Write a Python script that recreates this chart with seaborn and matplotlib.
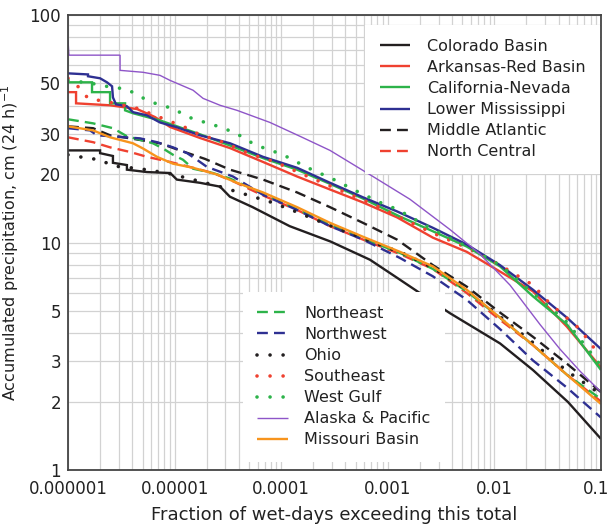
import matplotlib
matplotlib.use("Agg")
import matplotlib.pyplot as plt
import seaborn as sns
from matplotlib.ticker import FixedLocator, FixedFormatter, NullFormatter
from matplotlib.transforms import ScaledTranslation

# Exceedance curves of daily precipitation totals by river-forecast region
colorado_frac = [1e-6, 2e-6, 2e-6, 2.64e-6, 2.64e-6, 3.57e-6, 3.57e-6, 5.5e-6, 9.1e-6, 1.05e-5,
                 1.73e-5, 2.67e-5, 3.3e-5, 5.4e-5, 1.2e-4, 2.9e-4, 6.8e-4, 1.22e-3, 3.8e-3,
                 1.13e-2, 2.3e-2, 4.9e-2, 0.1]
colorado_vals = [25.4, 25.4, 24.7, 24.0, 22.4, 21.9, 20.9, 20.4, 20.2, 18.9, 18.3, 17.6, 15.9,
                 14.3, 11.8, 10.1, 8.4, 7.0, 4.9, 3.6, 2.75, 1.99, 1.37]

arkansas_frac = [1e-6, 1.19e-6, 1.19e-6, 2.48e-6, 4.44e-6, 6.55e-6, 9.06e-6, 1.73e-5, 3.31e-5,
                 6.75e-5, 1.41e-4, 2.87e-4, 5.85e-4, 1.22e-3, 2.65e-3, 5.5e-3, 1.13e-2, 2.3e-2,
                 4.8e-2, 0.1]
arkansas_vals = [45.8, 45.8, 40.9, 40.1, 38.6, 35.6, 32.2, 28.8, 26.0, 22.6, 19.5, 17.1, 15.0,
                 12.9, 10.5, 9.1, 7.45, 6.1, 4.26, 2.82]

california_frac = [1e-6, 1.68e-6, 1.68e-6, 2.48e-6, 2.48e-6, 3.43e-6, 3.43e-6, 4.07e-6, 7.29e-6,
                   1.73e-5, 3.31e-5, 6.75e-5, 1.41e-4, 2.87e-4, 5.85e-4, 1.3e-3, 2.65e-3, 5.5e-3,
                   1.13e-2, 2.3e-2, 4.8e-2, 0.1]
california_vals = [50.6, 50.6, 45.8, 45.8, 40.9, 40.9, 38.1, 37.0, 34.4, 29.9, 26.7, 23.5, 20.9,
                   18.1, 15.6, 13.0, 11.2, 9.6, 7.85, 5.8, 4.36, 2.75]

lower_miss_frac = [1e-6, 1.54e-6, 1.54e-6, 2.0e-6, 2.32e-6, 2.59e-6, 2.64e-6, 2.82e-6, 3.57e-6,
                   4.07e-6, 5.51e-6, 7.29e-6, 1.05e-5, 1.73e-5, 3.31e-5, 6.75e-5, 1.41e-4, 2.87e-4,
                   5.85e-4, 1.22e-3, 2.65e-3, 5.5e-3, 1.13e-2, 2.3e-2, 4.8e-2, 0.1]
lower_miss_vals = [55.4, 54.8, 53.8, 52.7, 50.6, 48.6, 43.4, 40.5, 39.7, 37.4, 36.2, 33.7, 32.1,
                   29.6, 27.3, 23.8, 21.3, 18.3, 15.8, 13.7, 11.6, 9.8, 7.95, 6.2, 4.67, 3.4]

mid_atlantic_frac = [1e-6, 1.72e-6, 2.48e-6, 3.82e-6, 7.29e-6, 1.12e-5, 1.93e-5, 3.31e-5, 6.75e-5,
                     1.41e-4, 2.87e-4, 5.85e-4, 1.22e-3, 2.65e-3, 5.5e-3, 1.13e-2, 2.3e-2, 4.8e-2, 0.1]
mid_atlantic_vals = [32.4, 31.8, 29.6, 28.7, 27.3, 25.4, 23.3, 20.9, 18.9, 16.6, 14.3, 12.2, 10.3,
                     7.95, 6.4, 4.92, 3.85, 2.93, 2.2]

north_central_frac = [1e-6, 1.72e-6, 2.48e-6, 3.82e-6, 5.51e-6, 9.06e-6, 1.49e-5, 2.29e-5, 3.53e-5,
                      6.75e-5, 1.41e-4, 2.87e-4, 5.85e-4, 1.3e-3, 2.65e-3, 5.5e-3, 1.13e-2, 2.3e-2,
                      4.8e-2, 0.1]
north_central_vals = [29.0, 27.6, 26.2, 25.0, 23.8, 22.6, 21.3, 20.2, 18.6, 16.1, 13.9, 11.8, 10.3,
                      8.9, 7.65, 6.0, 4.57, 3.54, 2.62, 2.0]

northeast_frac = [1e-6, 1.72e-6, 2.64e-6, 3.57e-6, 6.26e-6, 7.78e-6, 9.66e-6, 1.2e-5, 1.49e-5,
                  2.29e-5, 3.31e-5, 6.75e-5, 1.41e-4, 2.87e-4, 5.85e-4, 1.3e-3, 2.65e-3, 5.5e-3,
                  1.13e-2, 2.3e-2, 4.8e-2, 0.1]
northeast_vals = [34.8, 33.4, 31.8, 29.3, 27.3, 25.9, 24.3, 23.1, 21.1, 20.2, 19.1, 16.4, 14.0,
                  12.0, 10.4, 9.0, 7.65, 6.1, 4.67, 3.54, 2.62, 2.05]

northwest_frac = [1e-6, 1.61e-6, 1.87e-6, 4.73e-6, 6.84e-6, 9.66e-6, 1.31e-5, 1.62e-5, 2.01e-5,
                  3.53e-5, 6.75e-5, 1.41e-4, 2.87e-4, 5.85e-4, 1.3e-3, 2.65e-3, 5.5e-3, 1.13e-2,
                  2.3e-2, 4.8e-2, 0.1]
northwest_vals = [31.8, 31.1, 29.6, 28.7, 27.6, 26.2, 24.7, 23.1, 21.5, 19.5, 16.2, 13.9, 11.8,
                  10.3, 8.55, 7.1, 5.6, 4.16, 3.03, 2.3, 1.7]

ohio_frac = [1e-6, 1.51e-6, 2.0e-6, 2.64e-6, 4.73e-6, 8.49e-6, 1.49e-5, 2.67e-5, 4.78e-5, 8.2e-5,
             1.41e-4, 2.47e-4, 4.42e-4, 9.8e-4, 1.3e-3, 2.65e-3, 5.5e-3, 1.13e-2, 2.3e-2, 4.8e-2, 0.1]
ohio_vals = [24.3, 23.5, 23.1, 21.7, 21.1, 20.2, 18.9, 17.6, 16.2, 15.0, 13.6, 12.2, 11.0, 9.5,
             9.1, 7.75, 6.2, 4.72, 3.63, 2.72, 2.15]

southeast_frac = [1e-6, 1.3e-6, 1.54e-6, 2.48e-6, 4.44e-6, 7.29e-6, 1.25e-5, 1.62e-5, 2.84e-5,
                  5.09e-5, 8.75e-5, 1.5e-4, 2.58e-4, 4.23e-4, 7.58e-4, 1.25e-3, 2.65e-3, 5.5e-3,
                  1.13e-2, 2.3e-2, 3.3e-2, 6.35e-2, 0.1]
southeast_vals = [52.7, 47.6, 43.0, 41.3, 38.9, 35.5, 32.1, 30.2, 27.6, 24.5, 22.6, 20.2, 18.1,
                  16.4, 14.6, 13.0, 11.0, 9.5, 7.95, 6.5, 5.4, 4.16, 3.13]

west_gulf_frac = [1e-6, 1.68e-6, 1.96e-6, 3.65e-6, 4.44e-6, 5.62e-6, 7.29e-6, 9.66e-6, 1.25e-5,
                  1.62e-5, 2.15e-5, 2.79e-5, 3.69e-5, 4.78e-5, 6.19e-5, 8.2e-5, 1.04e-4, 1.78e-4,
                  3.13e-4, 5.25e-4, 9.0e-4, 1.22e-3, 2.65e-3, 5.5e-3, 1.13e-2, 2.3e-2, 4.8e-2, 0.1]
west_gulf_vals = [51.6, 50.1, 49.1, 47.1, 44.4, 42.2, 40.1, 38.9, 36.2, 34.4, 33.4, 31.8, 30.5,
                  28.1, 26.5, 25.3, 24.3, 21.3, 18.9, 16.7, 14.8, 14.0, 11.4, 9.6, 7.95, 6.0,
                  4.46, 2.87]

alaska_frac = [1e-6, 1.02e-6, 3.08e-6, 3.08e-6, 5.05e-6, 7.29e-6, 9.06e-6, 1.49e-5, 1.85e-5,
               2.67e-5, 3.85e-5, 7.85e-5, 1.5e-4, 2.87e-4, 7.26e-4, 1.61e-3, 3.83e-3, 7.33e-3,
               1.4e-2, 2.68e-2, 4.12e-2, 6.35e-2, 0.1]
alaska_vals = [77.5, 66.6, 66.6, 57.1, 56.0, 54.3, 51.6, 46.7, 43.0, 40.1, 38.1, 33.7, 29.3, 25.4,
               19.5, 15.5, 11.4, 8.9, 6.5, 4.36, 3.4, 2.72, 2.2]

missouri_frac = [1e-6, 1.72e-6, 2.48e-6, 4.07e-6, 5.05e-6, 6.84e-6, 9.66e-6, 1.49e-5, 2.5e-5,
                 3.85e-5, 6.75e-5, 1.41e-4, 2.87e-4, 5.85e-4, 1.3e-3, 2.65e-3, 5.5e-3, 1.13e-2,
                 2.3e-2, 4.8e-2, 0.1]
missouri_vals = [32.4, 31.1, 29.0, 27.3, 25.9, 23.8, 22.2, 21.3, 19.9, 18.3, 16.6, 14.3, 12.2,
                 10.6, 9.1, 7.85, 6.2, 4.67, 3.54, 2.62, 1.95]

x_ticks = [1e-6, 1e-5, 1e-4, 1e-3, 1e-2, 1e-1]
x_tick_labels = ["0.000001", "0.00001", "0.0001", "0.001", "0.01", "0.1"]
y_ticks = [1, 2, 3, 5, 10, 20, 30, 50, 100]
y_tick_labels = ["1", "2", "3", "5", "10", "20", "30", "50", "100"]

BLACK = "#231f20"
RED = "#ef4130"
GREEN = "#2db34a"
NAVY = "#2e3092"
PURPLE = "#8e55c8"
ORANGE = "#f7941d"

SOLID = "-"
DASH = (0, (4.6, 2.6))
DOT = (0, (0.01, 3.6))

series = [
    ("Colorado Basin", colorado_frac, colorado_vals, BLACK, SOLID),
    ("Arkansas-Red Basin", arkansas_frac, arkansas_vals, RED, SOLID),
    ("California-Nevada", california_frac, california_vals, GREEN, SOLID),
    ("Lower Mississippi", lower_miss_frac, lower_miss_vals, NAVY, SOLID),
    ("Middle Atlantic", mid_atlantic_frac, mid_atlantic_vals, BLACK, DASH),
    ("North Central", north_central_frac, north_central_vals, RED, DASH),
    ("Northeast", northeast_frac, northeast_vals, GREEN, DASH),
    ("Northwest", northwest_frac, northwest_vals, NAVY, DASH),
    ("Ohio", ohio_frac, ohio_vals, BLACK, DOT),
    ("Southeast", southeast_frac, southeast_vals, RED, DOT),
    ("West Gulf", west_gulf_frac, west_gulf_vals, GREEN, DOT),
    ("Alaska & Pacific", alaska_frac, alaska_vals, PURPLE, SOLID),
    ("Missouri Basin", missouri_frac, missouri_vals, ORANGE, SOLID),
]

sns.set_style("white")
plt.rcParams["font.family"] = ["DejaVu Sans"]
plt.rcParams["mathtext.fontset"] = "dejavusans"

fig = plt.figure(figsize=(6.12, 5.30), dpi=100)
ax = fig.add_axes([68 / 612, 1 - 470 / 530, 533 / 612, 455 / 530])

for name, fx, fy, color, style in series:
    if style == DOT:
        lw = 2.6
    elif name == "Alaska & Pacific":
        lw = 1.0
    else:
        lw = 1.7
    sns.lineplot(x=fx, y=fy, ax=ax, color=color, linestyle=style, linewidth=lw,
                 estimator=None, sort=False, label=name,
                 dash_capstyle="round" if style == DOT else "butt",
                 solid_capstyle="butt", solid_joinstyle="miter", legend=False)

ax.set_xscale("log")
ax.set_yscale("log")
ax.set_xlim(1e-6, 0.1)
ax.set_ylim(1, 100)

ax.xaxis.set_major_locator(FixedLocator(x_ticks))
ax.xaxis.set_major_formatter(FixedFormatter(x_tick_labels))
ax.xaxis.set_minor_locator(FixedLocator([m * d for d in x_ticks[:-1] for m in range(2, 10)]))
ax.xaxis.set_minor_formatter(NullFormatter())
ax.yaxis.set_major_locator(FixedLocator(y_ticks))
ax.yaxis.set_major_formatter(FixedFormatter(y_tick_labels))
ax.yaxis.set_minor_locator(FixedLocator([4, 6, 7, 8, 9, 40, 60, 70, 80, 90]))
ax.yaxis.set_minor_formatter(NullFormatter())

ax.grid(True, which="both", color="#d2d2d2", linewidth=0.9)
ax.set_axisbelow(True)
ax.tick_params(which="both", length=0, labelsize=12, colors="#222222")
ax.tick_params(axis="x", pad=7)
ax.tick_params(axis="y", pad=5)
for sp in ax.spines.values():
    sp.set_color("#444444")
    sp.set_linewidth(1.3)

# keep the last x label inside the canvas
fig.canvas.draw()
last = ax.xaxis.get_major_ticks()[-1].label1
last.set_transform(last.get_transform() + ScaledTranslation(-5 / 100, 0, fig.dpi_scale_trans))

ax.set_xlabel("Fraction of wet-days exceeding this total", fontsize=13, color="#222222", labelpad=6)
ax.set_ylabel(r"Accumulated precipitation, cm (24 h)$^{-1}$", fontsize=11.5, color="#222222",
              labelpad=6)

handles, labels = ax.get_legend_handles_labels()
leg_kw = dict(frameon=True, facecolor="white", edgecolor="none", framealpha=1.0, fancybox=False,
              fontsize=11.5, handlelength=1.9, handletextpad=1.05, labelspacing=0.38,
              borderaxespad=0.0, borderpad=0.9, labelcolor="#222222")
leg1 = ax.legend(handles[:6], labels[:6], loc="upper right", bbox_to_anchor=(0.998, 0.979), **leg_kw)
ax.add_artist(leg1)
ax.legend(handles[6:], labels[6:], loc="upper left", bbox_to_anchor=(0.328, 0.392), **leg_kw)

fig.savefig("out.png", dpi=100)
